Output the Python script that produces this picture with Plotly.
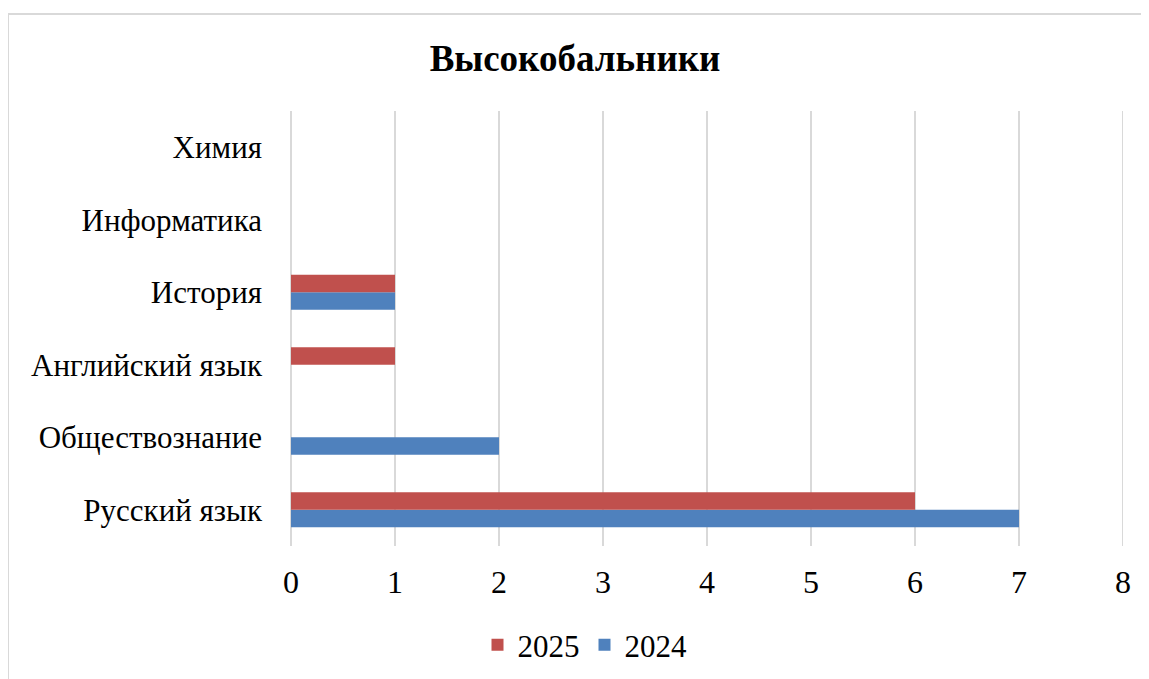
import plotly.graph_objects as go

categories = ["Русский язык", "Обществознание", "Английский язык", "История", "Информатика", "Химия"]
values_2025 = [6, 0, 1, 1, 0, 0]
values_2024 = [7, 2, 0, 1, 0, 0]
x_ticks = [0, 1, 2, 3, 4, 5, 6, 7, 8]

FONT = "Liberation Serif, Times New Roman, serif"
W, H = 1149, 679
OFF = 8  # page body margin
L, R, T, B = 291 - OFF, W - (1123 - OFF), 111 - OFF, H - (546 - OFF)
PW, PH = W - L - R, H - T - B

fig = go.Figure()
fig.add_trace(go.Bar(y=categories, x=values_2024, name="2024", orientation="h",
                     marker=dict(color="#4F81BD", line=dict(width=0))))
fig.add_trace(go.Bar(y=categories, x=values_2025, name="2025", orientation="h",
                     marker=dict(color="#C0504D", line=dict(width=0))))

fig.update_layout(
    width=W, height=H,
    paper_bgcolor="white", plot_bgcolor="white",
    barmode="group", bargap=0.52, bargroupgap=0,
    margin=dict(l=L, r=R, t=T, b=B),
    font=dict(family=FONT, color="black", size=32),
    title=dict(text="<b>Высокобальники</b>", x=(575 - OFF) / W, xref="container", xanchor="center",
               y=1 - (58 - OFF) / H, yref="container", yanchor="middle",
               font=dict(family=FONT, size=37, color="black")),
    showlegend=True,
    legend=dict(orientation="h", x=(585 - OFF - L) / PW, xanchor="center",
                y=-(645 - OFF - (H - B)) / PH, yanchor="middle",
                traceorder="reversed", font=dict(family=FONT, size=31), itemwidth=30),
    xaxis=dict(range=[0, 8], tickvals=x_ticks, showgrid=True, gridcolor="#D9D9D9", gridwidth=2,
               zeroline=True, zerolinecolor="#D9D9D9", zerolinewidth=2,
               showline=False, ticks="", tickfont=dict(size=32), ticklabelstandoff=14),
    yaxis=dict(showgrid=False, zeroline=False, showline=False, ticks="", tickfont=dict(size=31),
               ticklabelstandoff=28),
)
# gridline at the right edge of the value axis
fig.add_shape(type="line", xref="x", yref="paper", x0=x_ticks[-1], x1=x_ticks[-1], y0=0, y1=1,
              layer="below", line=dict(color="#D9D9D9", width=2))
# outer chart border (left and top edges visible)
bx = (8 - OFF - L) / PW
by = ((H - B) - (14 - OFF)) / PH
fig.add_shape(type="line", xref="paper", yref="paper", x0=bx, x1=bx, y0=by, y1=-3,
              line=dict(color="#D9D9D9", width=2))
fig.add_shape(type="line", xref="paper", yref="paper", x0=bx, x1=2, y0=by, y1=by,
              line=dict(color="#D9D9D9", width=2))
fig.write_html("out.html")
